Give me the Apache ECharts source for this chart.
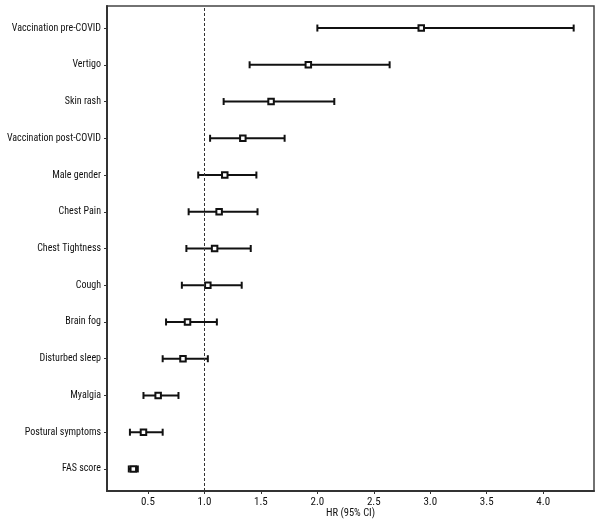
<!DOCTYPE html>
<html>
<head>
<meta charset="utf-8">
<script src="https://cdn.jsdelivr.net/npm/echarts@6/dist/echarts.min.js"></script>
<style>
  html, body { margin: 0; padding: 0; background: #fff; }
  #main { width: 600px; height: 520px; }
</style>
</head>
<body>
<div id="main"></div>
<script>
// rows listed top to bottom
var labels = ['Vaccination pre-COVID', 'Vertigo', 'Skin rash', 'Vaccination post-COVID', 'Male gender',
  'Chest Pain', 'Chest Tightness', 'Cough', 'Brain fog', 'Disturbed sleep', 'Myalgia',
  'Postural symptoms', 'FAS score'];
var hr    = [2.92, 1.92, 1.59, 1.34, 1.18, 1.13, 1.09, 1.03, 0.85, 0.81, 0.59, 0.46, 0.37];
var lower = [2.00, 1.40, 1.17, 1.05, 0.945, 0.86, 0.84, 0.80, 0.66, 0.63, 0.46, 0.34, 0.33];
var upper = [4.27, 2.64, 2.15, 1.71, 1.46, 1.47, 1.41, 1.33, 1.11, 1.03, 0.77, 0.63, 0.41];
var xTicks = [0.5, 1.0, 1.5, 2.0, 2.5, 3.0, 3.5, 4.0];

var n = labels.length;
var rowPos = labels.map(function (l, i) { return n - 1 - i; });
var data = labels.map(function (l, i) { return [hr[i], rowPos[i], lower[i], upper[i]]; });

var chart = echarts.init(document.getElementById('main'));
var font = '"Roboto Condensed", "Liberation Sans", Arial, sans-serif';

chart.setOption({
  animation: false,
  grid: {
    left: 107, right: 6, top: 6, bottom: 29, containLabel: false, outerBoundsMode: 'none',
    show: true, borderColor: '#444', borderWidth: 1.5
  },
  xAxis: {
    type: 'value', min: 0.137, max: 4.45,
    name: 'HR (95% CI)', nameLocation: 'middle', nameGap: 17, nameMoveOverlap: false,
    nameTextStyle: { fontFamily: font, fontSize: 10.5, color: '#111' },
    axisLine: { show: true, onZero: false, lineStyle: { color: '#333', width: 2 } },
    axisTick: { show: true, customValues: xTicks, length: 3, lineStyle: { color: '#333' } },
    axisLabel: {
      customValues: xTicks, fontFamily: font, fontSize: 11, color: '#111', margin: 6,
      formatter: function (v) { return v.toFixed(1); }
    },
    splitLine: { show: false }
  },
  yAxis: {
    type: 'value', min: -0.6, max: n - 0.4,
    axisLine: { show: true, onZero: false, lineStyle: { color: '#333', width: 2 } },
    axisTick: { show: true, customValues: rowPos, length: 3, lineStyle: { color: '#333' } },
    axisLabel: {
      customValues: rowPos, fontFamily: font, fontSize: 10, color: '#111', margin: 6,
      formatter: function (v) { return labels[n - 1 - Math.round(v)]; }
    },
    splitLine: { show: false }
  },
  series: [{
    type: 'custom',
    data: data,
    renderItem: function (params, api) {
      var y = api.value(1);
      var p = api.coord([api.value(0), y]);
      var lo = api.coord([api.value(2), y]);
      var hi = api.coord([api.value(3), y]);
      var st = { stroke: '#111', lineWidth: 2 };
      var s = 5.5;
      return {
        type: 'group',
        children: [
          { type: 'line', shape: { x1: lo[0], y1: lo[1], x2: hi[0], y2: hi[1] }, style: st },
          { type: 'line', shape: { x1: lo[0], y1: lo[1] - 3.5, x2: lo[0], y2: lo[1] + 3.5 }, style: st },
          { type: 'line', shape: { x1: hi[0], y1: hi[1] - 3.5, x2: hi[0], y2: hi[1] + 3.5 }, style: st },
          { type: 'rect', shape: { x: p[0] - s / 2, y: p[1] - s / 2, width: s, height: s },
            style: { fill: '#fff', stroke: '#111', lineWidth: 2 } }
        ]
      };
    },
    markLine: {
      silent: true, symbol: 'none', label: { show: false },
      lineStyle: { color: '#333', type: [3, 2], width: 1 },
      data: [{ xAxis: 1.0 }]
    }
  }]
});
</script>
</body>
</html>
